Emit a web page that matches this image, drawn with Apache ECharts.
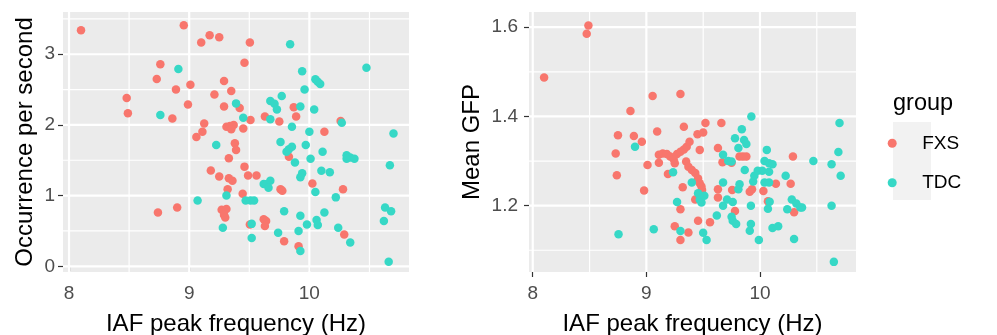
<!DOCTYPE html>
<html><head><meta charset="utf-8">
<script src="https://cdn.jsdelivr.net/npm/echarts@6/dist/echarts.min.js"></script>
<style>html,body{margin:0;padding:0;background:#fff}#c{width:997px;height:335px}</style>
</head><body><div id="c"></div>
<script>
// ---- Left panel: Occurrence per second ----
const fxsIafA = [8.10,8.955,9.10,9.17,9.25,9.505,8.76,9.46,8.73,8.89,9.01,9.29,9.35,9.21,8.48,8.49,8.99,8.86,9.29,9.42,9.125,9.11,9.06,9.31,9.34,9.37,9.35,9.45,9.51,9.38,9.39,9.33,9.63,9.75,9.87,9.89,10.125,10.26,9.83,9.18,9.25,9.33,9.36,9.32,9.46,9.49,9.56,9.445,9.76,9.775,10.025,10.28,8.74,8.90,9.27,9.31,9.29,9.30,9.505,9.62,9.64,9.63,9.79,9.91,10.29];
const fxsOcc  = [3.34,3.41,3.165,3.27,3.24,3.165,2.86,2.88,2.65,2.50,2.57,2.62,2.48,2.43,2.38,2.165,2.29,2.09,2.26,2.24,2.02,1.905,1.83,1.975,1.985,2.00,1.94,1.95,2.07,1.74,1.645,1.53,2.12,2.05,2.25,2.12,1.905,2.055,1.55,1.355,1.27,1.245,1.21,1.09,1.41,1.285,1.285,1.025,1.09,1.07,1.17,1.09,0.76,0.83,0.80,0.81,0.725,0.69,0.59,0.665,0.64,0.57,0.355,0.285,0.45];
const tdcIafA = [9.84,10.475,8.91,9.94,10.05,10.07,10.09,9.96,9.77,9.675,9.71,9.73,9.925,10.04,9.39,8.76,9.45,9.675,9.855,10.0,10.27,10.70,9.225,9.76,9.855,9.83,9.81,9.97,10.01,10.11,9.88,10.31,10.34,10.375,10.31,10.67,9.94,9.925,10.10,10.17,9.62,9.64,9.675,9.66,10.05,10.22,9.31,9.07,9.47,9.51,9.54,9.79,9.925,10.125,10.06,10.07,9.98,9.91,9.28,9.52,9.74,10.24,10.34,9.925,10.63,10.68,10.62,10.66,9.52];
const tdcOcc  = [3.14,2.81,2.79,2.76,2.645,2.61,2.58,2.50,2.41,2.34,2.30,2.22,2.26,2.22,2.305,2.14,2.10,2.08,1.975,1.905,2.03,1.88,1.715,1.76,1.69,1.655,1.62,1.715,1.52,1.62,1.47,1.57,1.54,1.52,1.52,1.43,1.315,1.26,1.35,1.33,1.165,1.16,1.21,1.11,1.05,0.975,1.00,0.93,0.93,0.93,0.93,0.78,0.715,0.76,0.655,0.585,0.59,0.50,0.545,0.40,0.475,0.545,0.335,0.215,0.83,0.78,0.64,0.065,0.60];

// ---- Right panel: Mean GFP ----
const fxsIafB = [8.49,8.475,8.10,9.055,9.30,8.86,8.75,8.73,8.74,8.89,8.96,9.095,9.33,9.01,8.98,9.19,9.11,9.144,9.18,9.21,9.24,9.25,9.27,9.30,9.33,9.355,9.38,9.45,9.50,9.52,9.66,9.11,9.35,9.37,9.40,9.43,9.455,9.47,9.485,9.49,9.47,9.63,9.67,9.32,9.43,9.63,9.63,9.30,9.25,9.37,9.30,9.455,9.56,9.755,9.78,9.82,9.85,9.88,9.91,9.93,10.03,10.07,10.14,10.27,10.29,10.30,9.75];
const fxsGfp  = [1.604,1.585,1.487,1.446,1.45,1.412,1.358,1.317,1.268,1.356,1.343,1.366,1.377,1.291,1.234,1.271,1.314,1.317,1.316,1.31,1.304,1.295,1.316,1.321,1.326,1.332,1.343,1.36,1.364,1.385,1.385,1.296,1.299,1.287,1.28,1.273,1.261,1.25,1.243,1.235,1.325,1.329,1.297,1.241,1.214,1.237,1.218,1.192,1.154,1.14,1.123,1.166,1.163,1.235,1.188,1.31,1.31,1.31,1.231,1.237,1.233,1.21,1.249,1.249,1.31,1.185,1.296];
const tdcIafB = [8.90,8.755,9.065,9.235,9.27,9.30,9.40,9.455,9.47,9.485,9.51,9.50,9.53,9.62,9.675,9.72,9.75,9.675,9.675,9.71,9.76,9.75,9.76,9.79,9.78,9.84,9.81,9.86,9.88,9.924,9.82,9.81,9.866,9.92,9.92,9.91,9.99,9.94,9.95,9.98,10.02,10.04,10.08,10.06,10.04,10.08,10.11,10.08,10.085,10.07,10.11,10.16,10.226,10.28,10.24,10.32,10.355,10.37,10.30,10.47,10.63,10.69,10.70,10.71,10.63,10.65];
const tdcGfp  = [1.332,1.136,1.147,1.275,1.208,1.143,1.252,1.228,1.213,1.207,1.222,1.139,1.123,1.178,1.314,1.30,1.299,1.252,1.20,1.214,1.208,1.175,1.166,1.159,1.351,1.371,1.329,1.347,1.338,1.40,1.248,1.237,1.28,1.20,1.159,1.144,1.123,1.254,1.267,1.278,1.278,1.252,1.252,1.325,1.30,1.295,1.293,1.276,1.209,1.193,1.15,1.154,1.267,1.214,1.192,1.205,1.196,1.196,1.125,1.30,1.293,1.32,1.385,1.267,1.20,1.074];

// ---- Axis ticks / labels ----
const xTicks = [8, 9, 10];
const xMinor = [8.5, 9.5, 10.5];
const occTicks = [0, 1, 2, 3];
const occMinor = [0.5, 1.5, 2.5, 3.5];
const gfpTicks = [1.2, 1.4, 1.6];
const gfpMinor = [1.1, 1.3, 1.5];
const groups = ['FXS', 'TDC'];
const xTitle = 'IAF peak frequency (Hz)';
const yTitleA = 'Occurrence per second';
const yTitleB = 'Mean GFP';
const legendTitle = 'group';

const xRangeA = [7.95, 10.829], yRangeA = [-0.081, 3.598];
const xRangeB = [7.967, 10.845], yRangeB = [1.0513, 1.634];

const COL = {FXS: '#F8766D', TDC: '#36D8C6'};
const FONT = 'Liberation Sans, Arial, sans-serif';
const PANEL_A = {left: 63, top: 12, width: 346, height: 260};
const PANEL_B = {left: 529, top: 12, width: 327, height: 260};

function zip(xs, ys) { return xs.map((x, i) => [x, ys[i]]); }

function xAxisOpt(gi, r) {
  return {
    gridIndex: gi, type: 'value', min: r[0], max: r[1], z: 3,
    axisLine: {show: false},
    axisTick: {show: true, length: 5, customValues: xTicks, lineStyle: {color: '#333333', width: 1.2}},
    axisLabel: {customValues: xTicks, color: '#4D4D4D', fontSize: 19, margin: 12, fontFamily: FONT},
    splitLine: {show: false},
    name: xTitle, nameLocation: 'middle', nameGap: 40,
    nameTextStyle: {fontSize: 24, color: '#000', fontFamily: FONT}
  };
}
function yAxisOpt(gi, r, ticks, title, margin, gap) {
  return {
    gridIndex: gi, type: 'value', min: r[0], max: r[1], z: 3,
    axisLine: {show: false},
    axisTick: {show: true, length: 5, customValues: ticks, lineStyle: {color: '#333333', width: 1.2}},
    axisLabel: {customValues: ticks, color: '#4D4D4D', fontSize: 19, margin: margin, fontFamily: FONT,
      formatter: v => (ticks === gfpTicks ? v.toFixed(1) : String(Math.round(v)))},
    splitLine: {show: false},
    name: title, nameLocation: 'middle', nameGap: gap, nameRotate: 90,
    nameTextStyle: {fontSize: 24, color: '#000', fontFamily: FONT}
  };
}
function sc(name, gi, data) {
  return {
    name: name, type: 'scatter', xAxisIndex: gi, yAxisIndex: gi,
    data: data, symbol: 'circle', symbolSize: 8.5, z: 8,
    itemStyle: {color: COL[name], opacity: 1},
    emphasis: {disabled: true}, animation: false
  };
}
// white panel grid lines drawn as line series across the axis ranges
function gridSeries(gi, xr, yr, xMaj, xMin, yMaj, yMin) {
  const out = [];
  const mk = (pts, w) => ({
    type: 'line', xAxisIndex: gi, yAxisIndex: gi, data: pts, z: 4,
    showSymbol: false, symbol: 'none', silent: true, animation: false,
    lineStyle: {color: '#FFFFFF', width: w, type: 'solid', opacity: 1},
    emphasis: {disabled: true}
  });
  xMin.forEach(v => out.push(mk([[v, yr[0]], [v, yr[1]]], 1.2)));
  yMin.forEach(v => out.push(mk([[xr[0], v], [xr[1], v]], 1.2)));
  xMaj.forEach(v => out.push(mk([[v, yr[0]], [v, yr[1]]], 2.2)));
  yMaj.forEach(v => out.push(mk([[xr[0], v], [xr[1], v]], 2.2)));
  return out;
}

const chart = echarts.init(document.getElementById('c'), null, {renderer: 'canvas'});
chart.setOption({
  animation: false,
  backgroundColor: '#FFFFFF',
  grid: [
    Object.assign({show: true, backgroundColor: '#EBEBEB', borderWidth: 0, outerBoundsMode: 'none', containLabel: false}, PANEL_A),
    Object.assign({show: true, backgroundColor: '#EBEBEB', borderWidth: 0, outerBoundsMode: 'none', containLabel: false}, PANEL_B)
  ],
  xAxis: [xAxisOpt(0, xRangeA), xAxisOpt(1, xRangeB)],
  yAxis: [
    yAxisOpt(0, yRangeA, occTicks, yTitleA, 8, 26),
    yAxisOpt(1, yRangeB, gfpTicks, yTitleB, 11, 45)
  ],
  legend: {
    data: groups, orient: 'vertical', left: 887.7, top: 133.3, padding: 0,
    itemWidth: 50, itemHeight: 9, itemGap: 19.4, icon: 'circle',
    selectedMode: false, z: 6,
    textStyle: {fontSize: 19, color: '#000', fontFamily: FONT, lineHeight: 20}
  },
  graphic: [
    {type: 'rect', x: 893, y: 122, shape: {width: 38, height: 78}, style: {fill: '#F2F2F2'}, z: -10, silent: true},
    {type: 'text', x: 893, y: 92, style: {text: legendTitle, fontSize: 23.5, fill: '#000', fontFamily: FONT}, silent: true}
  ],
  series: [].concat(
    gridSeries(0, xRangeA, yRangeA, xTicks, xMinor, occTicks, occMinor),
    gridSeries(1, xRangeB, yRangeB, xTicks, xMinor, gfpTicks, gfpMinor),
    [
      sc('FXS', 0, zip(fxsIafA, fxsOcc)),
      sc('TDC', 0, zip(tdcIafA, tdcOcc)),
      sc('FXS', 1, zip(fxsIafB, fxsGfp)),
      sc('TDC', 1, zip(tdcIafB, tdcGfp))
    ]
  )
});
</script>
</body></html>
